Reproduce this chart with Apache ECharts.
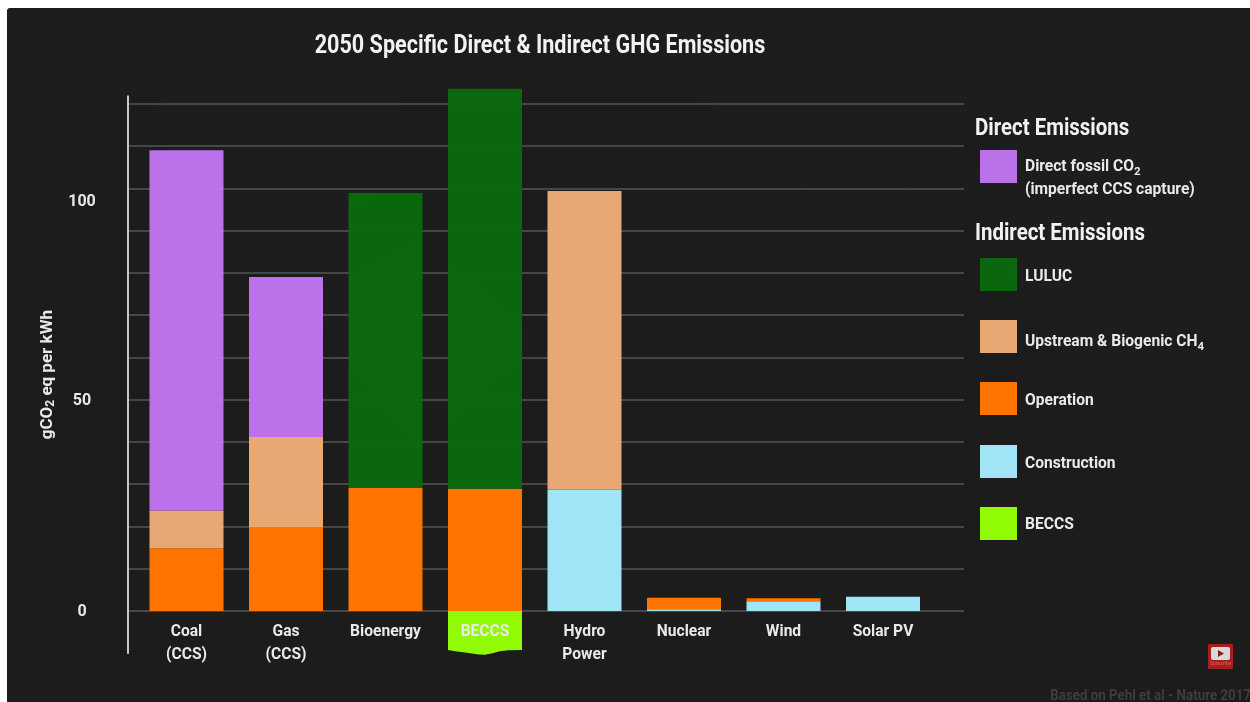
<!DOCTYPE html>
<html>
<head>
<meta charset="utf-8">
<style>
html,body{margin:0;padding:0;background:#fff;}
#chart{width:1250px;height:702px;}
</style>
<script src="https://cdn.jsdelivr.net/npm/echarts@6/dist/echarts.min.js"></script>
</head>
<body>
<div id="chart"></div>
<script>
// gCO2 eq per kWh, by technology
const categories = ['Coal\n(CCS)', 'Gas\n(CCS)', 'Bioenergy', 'BECCS', 'Hydro\nPower', 'Nuclear', 'Wind', 'Solar PV'];
const construction = [0, 0, 0, 0, 29.6, 0.4, 2.4, 3.5];
const operation = [15.3, 20.5, 30, 29.8, 0, 2.8, 0.7, 0];
const upstream = [9.2, 21.9, 0, 0, 72.8, 0, 0, 0];
const luluc = [0, 0, 71.9, 97.5, 0, 0, 0, 0];
const directFossil = [87.8, 39, 0, 0, 0, 0, 0, 0];
const beccsRemoval = [[3, -9.5]];
const yTickLabels = [0, 50, 100];

const FONT = '"Roboto","Liberation Sans",sans-serif';
const TEXT = '#e9e9e9';
const COLORS = {
  direct: '#c175f1', luluc: '#0a6a0e', upstream: '#efad77',
  operation: '#ff7300', construction: '#a0e4f5', beccs: '#90fb05'
};
const GRID_STEP = 10.3;
const BAR_WIDTH = 74;
const Y_MIN = -GRID_STEP;
const Y_MAX = 125.55;
const GRID_V = {top: 96, height: 557.25};

const NAMES = {
  direct: 'Direct fossil CO2 (imperfect CCS capture)',
  luluc: 'LULUC',
  upstream: 'Upstream & Biogenic CH4',
  operation: 'Operation',
  construction: 'Construction',
  beccs: 'BECCS'
};

function barSeries(name, data, color, opacity) {
  return {
    name, type: 'bar', stack: 'total', data, clip: false,
    xAxisIndex: 0, yAxisIndex: 0, barWidth: BAR_WIDTH,
    itemStyle: {color, opacity}, z: 3
  };
}

// BECCS removal: the bar drops below zero and ends in a torn edge
function renderBeccs(params, api) {
  const x = api.coord([api.value(0), 0])[0];
  const y0 = api.coord([0, 0])[1];
  const y1 = api.coord([0, api.value(1)])[1];
  const l = x - BAR_WIDTH / 2, r = x + BAR_WIDTH / 2;
  const edge = [[0, 0], [0.12, 1.5], [0.28, 3], [0.42, 4.6], [0.5, 4.8], [0.6, 3.4], [0.7, 1.2], [0.82, 0.3], [1, 0]];
  const pts = [[l, y0], [r, y0]];
  edge.slice().reverse().forEach(e => pts.push([l + e[0] * BAR_WIDTH, y1 + e[1]]));
  return {type: 'polygon', shape: {points: pts}, style: {fill: api.visual('color')}};
}

function legendEntry(name, top, padTop) {
  return {
    data: [name], left: 980, top, orient: 'vertical', itemWidth: 37, itemHeight: 33, itemGap: 0,
    padding: 0, selectedMode: false, icon: 'rect',
    formatter(n) {
      if (n === NAMES.direct) return '{t|Direct fossil CO}{s|2}\n{t|(imperfect CCS capture)}';
      if (n === NAMES.upstream) return '{t|Upstream & Biogenic CH}{s|4}';
      return '{t|' + n + '}';
    },
    textStyle: {
      color: TEXT, padding: [padTop, 0, 0, 0],
      rich: {
        t: {fontFamily: FONT, fontWeight: 'bold', fontSize: 15.6, color: TEXT, lineHeight: 23, padding: [0, 0, 0, 3]},
        s: {fontFamily: FONT, fontWeight: 'bold', fontSize: 11.5, color: TEXT, verticalAlign: 'bottom', lineHeight: 18, padding: [6, 0, 0, 0]}
      }
    }
  };
}

// squeezed heading text; the anchor stays at x, y
function headline(text, x, y, size, scaleX, fill, align) {
  return {
    type: 'text', z: 4, x, y, scaleX,
    style: {text, fill, textAlign: align || 'left', textVerticalAlign: 'middle',
      font: 'bold ' + size + 'px ' + FONT}
  };
}

// faint angular shapes behind the plot
const shards = [
  [[140, 120], [270, 15], [400, 15], [400, 190], [250, 250]],
  [[600, 10], [1100, 10], [860, 240], [740, 130]],
  [[960, 180], [1130, 10], [1250, 10], [1250, 330], [1100, 430]],
  [[300, 300], [420, 240], [540, 340], [420, 450]]
];

const tickStyle = {fontFamily: FONT, fontWeight: 'bold', fontSize: 16, color: TEXT};

const option = {
  animation: false,
  backgroundColor: 'transparent',
  legend: [
    legendEntry(NAMES.direct, 150, 24),
    legendEntry(NAMES.luluc, 258, 5),
    legendEntry(NAMES.upstream, 320, 11),
    legendEntry(NAMES.operation, 382, 5),
    legendEntry(NAMES.construction, 445, 5),
    legendEntry(NAMES.beccs, 507, 4)
  ],
  grid: [
    {left: 136.75, width: 796, top: GRID_V.top, height: GRID_V.height, outerBoundsMode: 'none'},
    {left: 128, width: 836, top: GRID_V.top, height: GRID_V.height, outerBoundsMode: 'none'}
  ],
  xAxis: [
    {
      type: 'category', gridIndex: 0, data: categories, z: 6, offset: -42.25,
      axisLine: {show: false}, axisTick: {show: false},
      axisLabel: {interval: 0, margin: 10, lineHeight: 23, fontFamily: FONT, fontWeight: 'bold', fontSize: 15.6, color: TEXT}
    },
    {type: 'value', gridIndex: 1, min: 0, max: 1, show: false}
  ],
  yAxis: [
    {type: 'value', gridIndex: 0, min: Y_MIN, max: Y_MAX, interval: GRID_STEP,
      axisLine: {show: false}, axisTick: {show: false}, axisLabel: {show: false}, splitLine: {show: false}},
    {
      type: 'value', gridIndex: 1, min: Y_MIN, max: Y_MAX, interval: GRID_STEP,
      name: '{t|gCO}{s|2}{t| eq per kWh}', nameLocation: 'middle', nameGap: 71, nameRotate: 90,
      nameTextStyle: {
        color: TEXT,
        rich: {
          t: {fontFamily: FONT, fontWeight: 'bold', fontSize: 17, color: TEXT},
          s: {fontFamily: FONT, fontWeight: 'bold', fontSize: 12, color: TEXT, verticalAlign: 'bottom', padding: [6, 0, 0, 0]}
        }
      },
      axisLine: {show: true, onZero: false, lineStyle: {color: '#f2f2f2', width: 1.6}},
      axisTick: {show: false},
      splitLine: {show: true, showMinLine: false, showMaxLine: false, lineStyle: {color: '#545454', width: 1.5}},
      axisLabel: {
        customValues: yTickLabels, margin: 46, align: 'center', ...tickStyle,
        formatter: v => v === 50 ? '{fifty|50}' : v === 100 ? '{hundred|100}' : '{zero|0}',
        rich: {
          zero: {...tickStyle, padding: [3, 0, 0, 0]},
          fifty: {...tickStyle, padding: [0, 0, 10, 0]},
          hundred: {...tickStyle, padding: [2, 0, 0, 0]}
        }
      }
    }
  ],
  series: [
    barSeries(NAMES.construction, construction, COLORS.construction, 1),
    barSeries(NAMES.operation, operation, COLORS.operation, 1),
    barSeries(NAMES.upstream, upstream, COLORS.upstream, 0.97),
    barSeries(NAMES.luluc, luluc, COLORS.luluc, 0.97),
    barSeries(NAMES.direct, directFossil, COLORS.direct, 0.96),
    {
      name: NAMES.beccs, type: 'custom', xAxisIndex: 0, yAxisIndex: 0, z: 3,
      data: beccsRemoval, encode: {x: 0, y: 1}, renderItem: renderBeccs,
      itemStyle: {color: COLORS.beccs}
    }
  ],
  graphic: [
    {type: 'rect', z: -5, shape: {x: 7, y: 8, width: 1243, height: 694, r: [3, 0, 0, 0]}, style: {fill: '#1c1c1c'}},
    ...shards.map(points => ({type: 'polygon', z: -4, shape: {points}, style: {fill: 'rgba(255,255,255,0.008)'}})),
    headline('2050 Specific Direct & Indirect GHG Emissions', 540, 46, 26, 0.83, '#f2f2f2', 'center'),
    headline('Direct Emissions', 975, 129, 23.5, 0.87, '#f2f2f2'),
    headline('Indirect Emissions', 975, 234, 23.5, 0.87, '#f2f2f2'),
    headline('Based on Pehl et al - Nature 2017', 1251, 696, 15.5, 0.86, '#3e3e3e', 'right'),
    // channel badge, lower right
    {type: 'rect', z: 1, shape: {x: 1208, y: 644, width: 25, height: 25, r: 1}, style: {fill: '#a81e1e'}},
    {type: 'rect', z: 2, shape: {x: 1211, y: 647, width: 19, height: 13, r: 2}, style: {fill: '#d9d9d9'}},
    {type: 'polygon', z: 3, shape: {points: [[1218, 650], [1218, 657], [1224, 653.5]]}, style: {fill: '#8c1a1a'}},
    {type: 'text', z: 3, style: {x: 1220.5, y: 661, text: 'Subscribe', fill: '#d96a6a', font: '5px "Liberation Sans"', textAlign: 'center'}}
  ]
};

echarts.init(document.getElementById('chart')).setOption(option);
</script>
</body>
</html>
